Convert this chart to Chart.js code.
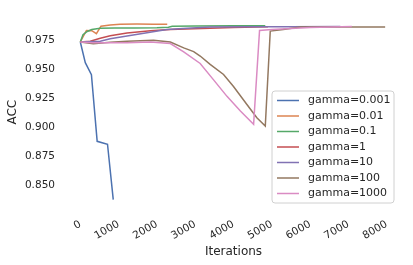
<!DOCTYPE html>
<html>
<head>
<meta charset="utf-8">
<script src="https://cdn.jsdelivr.net/npm/chart.js@4/dist/chart.umd.min.js"></script>
<style>
html,body{margin:0;padding:0;background:#fff;}
#wrap{width:413px;height:265px;}
</style>
</head>
<body>
<div id="wrap"><canvas id="c" width="413" height="265"></canvas></div>
<script>
const seriesLabels = ["gamma=0.001","gamma=0.01","gamma=0.1","gamma=1","gamma=10","gamma=100","gamma=1000"];
const seriesColors = ["#4c72b0","#dd8452","#55a868","#c44e52","#8172b3","#937860","#da8bc3"];

const itersG0001 = [0,130,290,440,710,860];
const accG0001   = [0.9733,0.9555,0.9452,0.8878,0.8853,0.8376];

const itersG001 = [0,160,300,420,540,780,1040,1480,1900,2270];
const accG001   = [0.9733,0.9832,0.9830,0.9805,0.9869,0.9880,0.9885,0.9887,0.9886,0.9886];

const itersG01 = [0,70,180,300,520,900,1400,2000,2300,2400,3000,4000,4830];
const accG01   = [0.9733,0.9795,0.9823,0.9840,0.9852,0.9853,0.9853,0.9856,0.9860,0.9869,0.9870,0.9872,0.9873];

const itersG1 = [0,260,520,780,1220,1830,2350,3390,4000,4900];
const accG1   = [0.9733,0.9739,0.9765,0.9787,0.9810,0.9830,0.9841,0.9852,0.9858,0.9864];

const itersG10 = [0,520,780,1220,1740,2260,2790,3390,4500,5500,6790];
const accG10   = [0.9733,0.9739,0.9761,0.9784,0.9812,0.9841,0.9852,0.9861,0.9864,0.9865,0.9867];

const itersG100 = [0,340,780,1220,1910,2350,2700,2960,3130,3390,3740,4000,4350,4610,4830,4960,5300,5750,7960];
const accG100   = [0.9733,0.9718,0.9730,0.9739,0.9747,0.9733,0.9682,0.9650,0.9612,0.9540,0.9453,0.9350,0.9195,0.9081,0.9010,0.9827,0.9840,0.9861,0.9862];

const itersG1000 = [0,340,1220,1830,2350,2700,3130,3480,3830,4180,4525,4680,5000,5500,6000,7090];
const accG1000   = [0.9733,0.9727,0.9727,0.9733,0.9719,0.9648,0.9548,0.9407,0.9265,0.9138,0.9025,0.9832,0.9840,0.9850,0.9858,0.9866];

const xTickValues = [0,1000,2000,3000,4000,5000,6000,7000,8000];
const yTickValues = [0.850,0.875,0.900,0.925,0.950,0.975];

const allIters = [itersG0001,itersG001,itersG01,itersG1,itersG10,itersG100,itersG1000];
const allAcc = [accG0001,accG001,accG01,accG1,accG10,accG100,accG1000];

const FONT = "'DejaVu Sans', sans-serif";
const TXT = "#262626";

const datasets = seriesLabels.map((lab, i) => ({
  label: lab,
  data: allIters[i].map((x, j) => ({x: x, y: allAcc[i][j]})),
  borderColor: seriesColors[i],
  backgroundColor: seriesColors[i],
  borderWidth: 1.5,
  pointRadius: 0,
  tension: 0,
  fill: false,
  order: seriesLabels.length - 1 - i
}));

const legendPlugin = {
  id: 'mplLegend',
  afterDatasetsDraw(chart) {
    const ctx = chart.ctx;
    const a = chart.chartArea;
    const right = a.right - 8, bottom = a.bottom - 5;
    const w = 122, h = 112;
    const left = right - w, top = bottom - h;
    ctx.save();
    ctx.beginPath();
    const r = 3;
    ctx.moveTo(left + r, top);
    ctx.lineTo(right - r, top); ctx.quadraticCurveTo(right, top, right, top + r);
    ctx.lineTo(right, bottom - r); ctx.quadraticCurveTo(right, bottom, right - r, bottom);
    ctx.lineTo(left + r, bottom); ctx.quadraticCurveTo(left, bottom, left, bottom - r);
    ctx.lineTo(left, top + r); ctx.quadraticCurveTo(left, top, left + r, top);
    ctx.closePath();
    ctx.fillStyle = 'rgba(255,255,255,0.8)';
    ctx.fill();
    ctx.strokeStyle = '#d0d0d0';
    ctx.lineWidth = 1;
    ctx.stroke();
    ctx.font = "11px " + FONT;
    ctx.textBaseline = 'middle';
    ctx.textAlign = 'left';
    seriesLabels.forEach((lab, i) => {
      const y = top + 9.5 + i * 15.5;
      ctx.beginPath();
      ctx.moveTo(left + 5, y);
      ctx.lineTo(left + 27, y);
      ctx.strokeStyle = seriesColors[i];
      ctx.lineWidth = 1.5;
      ctx.stroke();
      ctx.fillStyle = TXT;
      ctx.fillText(lab, left + 36, y);
    });
    ctx.restore();
  }
};

new Chart(document.getElementById('c'), {
  type: 'line',
  data: { datasets: datasets },
  options: {
    responsive: false,
    animation: false,
    layout: { padding: { top: 14, right: 11, left: 0, bottom: 0 } },
    plugins: { legend: { display: false }, tooltip: { enabled: false } },
    scales: {
      x: {
        type: 'linear',
        min: -400, max: 8400,
        grid: { display: false, drawTicks: false, tickLength: 0 },
        border: { display: false },
        afterBuildTicks(scale) { scale.ticks = xTickValues.map(v => ({value: v})); },
        afterFit(scale) { scale.height = 57; scale.paddingLeft = 0; scale.paddingRight = 0; },
        ticks: {
          minRotation: 30, maxRotation: 30,
          padding: 10,
          color: TXT,
          font: { family: FONT, size: 10.5 },
          callback: v => String(v)
        },
        title: { display: true, text: 'Iterations', color: TXT, font: { family: FONT, size: 12 }, padding: { top: 6, bottom: 6 } }
      },
      y: {
        type: 'linear',
        min: 0.8304, max: 0.9954,
        grid: { display: false, drawTicks: false, tickLength: 0 },
        border: { display: false },
        afterBuildTicks(scale) { scale.ticks = yTickValues.map(v => ({value: v})); },
        afterFit(scale) { scale.width = 65; },
        ticks: {
          padding: 10,
          color: TXT,
          font: { family: FONT, size: 10.5 },
          callback: v => Number(v).toFixed(3)
        },
        title: { display: true, text: 'ACC', color: TXT, font: { family: FONT, size: 12 }, padding: { top: 6, bottom: 6 } }
      }
    }
  },
  plugins: [legendPlugin]
});
</script>
</body>
</html>
